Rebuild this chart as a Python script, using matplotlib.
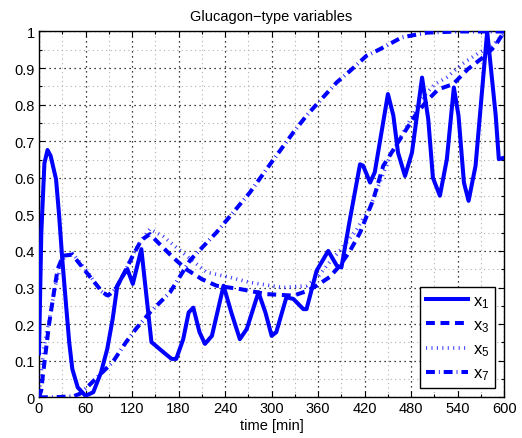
import matplotlib
matplotlib.use("Agg")
import matplotlib.pyplot as plt
from matplotlib.ticker import MultipleLocator, FixedLocator

plt.rcParams['font.family'] = ['Liberation Sans', 'DejaVu Sans']
plt.rcParams['mathtext.default'] = 'regular'

# ---- data ----
x1_t = [0, 3, 7, 11, 15, 22, 26, 30, 35, 39, 43, 50, 60, 70, 80, 88, 95, 101, 108, 114,
        121, 132, 145, 160, 171, 177, 186, 193, 199, 207, 214, 223, 238, 248, 259, 268,
        283, 292, 300, 306, 319, 328, 341, 345, 358, 373, 384, 390, 401, 414, 418, 427,
        433, 450, 457, 463, 472, 481, 494, 502, 508, 517, 526, 535, 541, 548, 554, 563,
        578, 589, 593, 600]
x1_y = [0.12, 0.45, 0.64, 0.676, 0.66, 0.596, 0.496, 0.378, 0.25, 0.15, 0.077, 0.027,
        0.004, 0.014, 0.068, 0.132, 0.214, 0.305, 0.332, 0.35, 0.31, 0.405, 0.151, 0.124,
        0.105, 0.105, 0.159, 0.232, 0.245, 0.178, 0.146, 0.168, 0.305, 0.232, 0.159, 0.187,
        0.287, 0.232, 0.168, 0.178, 0.273, 0.269, 0.241, 0.241, 0.346, 0.40, 0.36, 0.355,
        0.487, 0.637, 0.633, 0.587, 0.615, 0.829, 0.77, 0.669, 0.605, 0.669, 0.874, 0.76,
        0.60, 0.551, 0.651, 0.847, 0.77, 0.587, 0.537, 0.633, 1.0, 0.77, 0.651, 0.655]

x3_t = [0, 3, 5, 9, 13, 18, 24, 31, 43, 61, 82, 89, 100, 108, 121, 132, 143, 155, 173,
        190, 210, 229, 259, 294, 328, 345, 358, 375, 388, 401, 414, 431, 444, 463, 485,
        500, 515, 534, 553, 575, 588, 600]
x3_y = [0.0, 0.02, 0.06, 0.13, 0.2, 0.27, 0.35, 0.387, 0.39, 0.342, 0.287, 0.278, 0.30,
        0.332, 0.387, 0.43, 0.446, 0.42, 0.382, 0.35, 0.323, 0.305, 0.296, 0.282, 0.278,
        0.29, 0.305, 0.329, 0.36, 0.40, 0.45, 0.54, 0.633, 0.697, 0.77, 0.81, 0.842,
        0.856, 0.897, 0.933, 0.96, 1.0]

x5_t = [0, 2, 6, 10, 14, 21, 31, 42, 60, 80, 89, 100, 110, 121, 132, 143, 160, 180, 200,
        216, 246, 272, 315, 345, 360, 375, 392, 410, 427, 453, 474, 493, 510, 526, 545,
        566, 584, 600]
x5_y = [0.0, 0.05, 0.13, 0.18, 0.22, 0.305, 0.378, 0.397, 0.35, 0.29, 0.275, 0.30, 0.34,
        0.39, 0.43, 0.46, 0.44, 0.405, 0.37, 0.342, 0.328, 0.314, 0.30, 0.305, 0.33,
        0.37, 0.41, 0.46, 0.52, 0.66, 0.74, 0.815, 0.855, 0.875, 0.91, 0.94, 0.96, 0.995]

x7_t = [0, 20, 45, 53, 61, 69, 95, 112, 125, 143, 169, 195, 229, 272, 298, 328, 345, 362,
        384, 401, 422, 440, 468, 501, 540, 600]
x7_y = [0.0, 0.0, 0.003, 0.01, 0.025, 0.042, 0.096, 0.15, 0.187, 0.232, 0.287, 0.375,
        0.451, 0.56, 0.637, 0.724, 0.77, 0.81, 0.861, 0.892, 0.933, 0.952, 0.984, 0.997,
        1.0, 1.0]

labels = [r'$x_1$', r'$x_3$', r'$x_5$', r'$x_7$']
x_ticks = list(range(0, 601, 60))
y_ticks = [0, 0.1, 0.2, 0.3, 0.4, 0.5, 0.6, 0.7, 0.8, 0.9, 1]
y_ticklabels = ['0', '0.1', '0.2', '0.3', '0.4', '0.5', '0.6', '0.7', '0.8', '0.9', '1']

# ---- figure ----
fig = plt.figure(figsize=(5.22, 4.39), dpi=100)
ax = fig.add_axes([0.0747, 0.0927, 0.8913, 0.8333])

blue = (0, 0, 1)
lw = 2.9
ax.plot(x1_t, x1_y, color=blue, lw=lw, solid_joinstyle='round', label=labels[0], zorder=5)
ax.plot(x3_t, x3_y, color=blue, lw=lw, dashes=(2.2, 1.4), label=labels[1], zorder=4)
ax.plot(x5_t, x5_y, color=blue, lw=lw * 0.9, dashes=(0.3, 1.2), alpha=0.75,
        label=labels[2], zorder=3)
ax.plot(x7_t, x7_y, color=blue, lw=lw, dashes=(2.2, 1.0, 0.2, 1.0), label=labels[3], zorder=4)

ax.set_xlim(0, 600)
ax.set_ylim(0, 1)
ax.xaxis.set_major_locator(FixedLocator(x_ticks))
ax.yaxis.set_major_locator(FixedLocator(y_ticks))
ax.set_yticklabels(y_ticklabels)
ax.xaxis.set_minor_locator(MultipleLocator(30))
ax.yaxis.set_minor_locator(MultipleLocator(0.05))

ax.grid(True, which='major', color='black', ls=(0, (1, 3)), lw=0.9)
ax.grid(True, which='minor', color='#b0b0b0', ls=(0, (1, 3)), lw=0.8)
ax.set_axisbelow(True)

ax.tick_params(which='both', direction='in', top=True, right=True, labelsize=10.5,
               length=4, width=0.8, colors='black', pad=3)
ax.tick_params(which='minor', length=2)
for s in ax.spines.values():
    s.set_linewidth(1.0)
    s.set_color('black')

ax.set_title('Glucagon\u2212type variables', fontsize=10.5, pad=8)
ax.set_xlabel('time [min]', fontsize=10.5, labelpad=2)

leg = ax.legend(loc='lower right', fontsize=12, handlelength=2.5, borderaxespad=0.55,
                fancybox=False, edgecolor='black', framealpha=1, labelspacing=0.45,
                handletextpad=0.3, borderpad=0.35)
leg.get_frame().set_linewidth(1.0)

fig.savefig('out.png', dpi=100)
